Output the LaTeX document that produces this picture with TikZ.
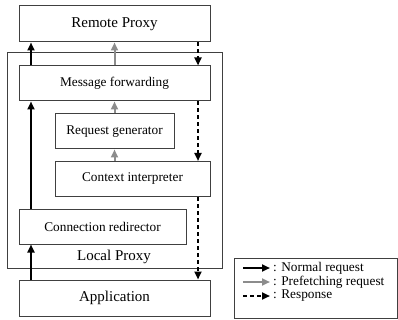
\documentclass[tikz,border=0pt]{standalone}
\usepackage{fontspec}
\setmainfont{Liberation Serif}
\usetikzlibrary{arrows.meta}

\tikzset{
  box/.style={draw=black!75, line width=1pt, rectangle, inner sep=0pt},
  bigbox/.style={box, minimum width=191pt, minimum height=36pt, font=\fontsize{15}{18}\selectfont},
  modbox/.style={box, minimum height=35pt, font=\fontsize{13.3}{16}\selectfont},
  tip/.style={-{Triangle[length=8pt,width=7pt]}, line width=2pt},
  normal/.style={tip, black},
  prefetch/.style={tip, black!45},
  response/.style={tip, black, dash pattern=on 4pt off 3pt},
}

\begin{document}
\begin{tikzpicture}[x=1pt,y=-1pt]
	\useasboundingbox (0,0) rectangle (398,320);
	
	% Local proxy frame
	\draw[draw=black!75, line width=1pt] (7,53) rectangle (222,268);
	\node[font=\fontsize{15}{18}\selectfont] (local) at (114,257) {Local Proxy};
	
	% Boxes
	\node[bigbox] (remote) at (114.5,24) {Remote Proxy};
	\node[modbox, minimum width=191pt] (fwd) at (114.5,83.5) {Message forwarding};
	\node[modbox, minimum width=119pt] (gen) at (114.5,131.5) {Request generator};
	\node[modbox, minimum width=155pt] (ctx) at (132.5,179) {Context interpreter};
	\node[modbox, minimum width=167pt] (redir) at (102.5,226.5) {Connection redirector};
	\node[bigbox] (app) at (114.5,298) {Application};
	
	% Columns of the arrows
	\coordinate (xn) at (31,0);
	\coordinate (xp) at (114.5,0);
	\coordinate (xr) at (198,0);
	
	% Normal request
	\draw[normal] (xn |- app.north) -- (xn |- redir.south);
	\draw[normal] (xn |- redir.north) -- (xn |- fwd.south);
	\draw[normal] (xn |- fwd.north) -- (xn |- remote.south);
	
	% Prefetching request
	\draw[prefetch] (xp |- ctx.north) -- (xp |- gen.south);
	\draw[prefetch] (xp |- gen.north) -- (xp |- fwd.south);
	\draw[prefetch] (xp |- fwd.north) -- (xp |- remote.south);
	
	% Response
	\draw[response] (xr |- remote.south) -- (xr |- fwd.north);
	\draw[response] (xr |- fwd.south) -- (xr |- ctx.north);
	\draw[response] (xr |- ctx.south) -- (xr |- app.north);
	
	% Legend
	\draw[draw=black!75, line width=1pt] (234,258) rectangle (397,318);
	\node[anchor=west, font=\fontsize{13.3}{16}\selectfont, inner sep=0pt] (tn) at (273,268) {: Normal request};
	\node[anchor=west, font=\fontsize{13.3}{16}\selectfont, inner sep=0pt] (tp) at (273,282) {: Prefetching request};
	\node[anchor=west, font=\fontsize{13.3}{16}\selectfont, inner sep=0pt] (tr) at (273,296) {: Response};
	\coordinate (ln) at (243,268);
	\coordinate (lp) at (243,282);
	\coordinate (lr) at (243,296);
	\draw[normal] (ln) -- ([xshift=-3pt]tn.west);
	\draw[prefetch] (lp) -- ([xshift=-3pt]tp.west);
	\draw[response] (lr) -- ([xshift=-3pt]tr.west);
\end{tikzpicture}
\end{document}
